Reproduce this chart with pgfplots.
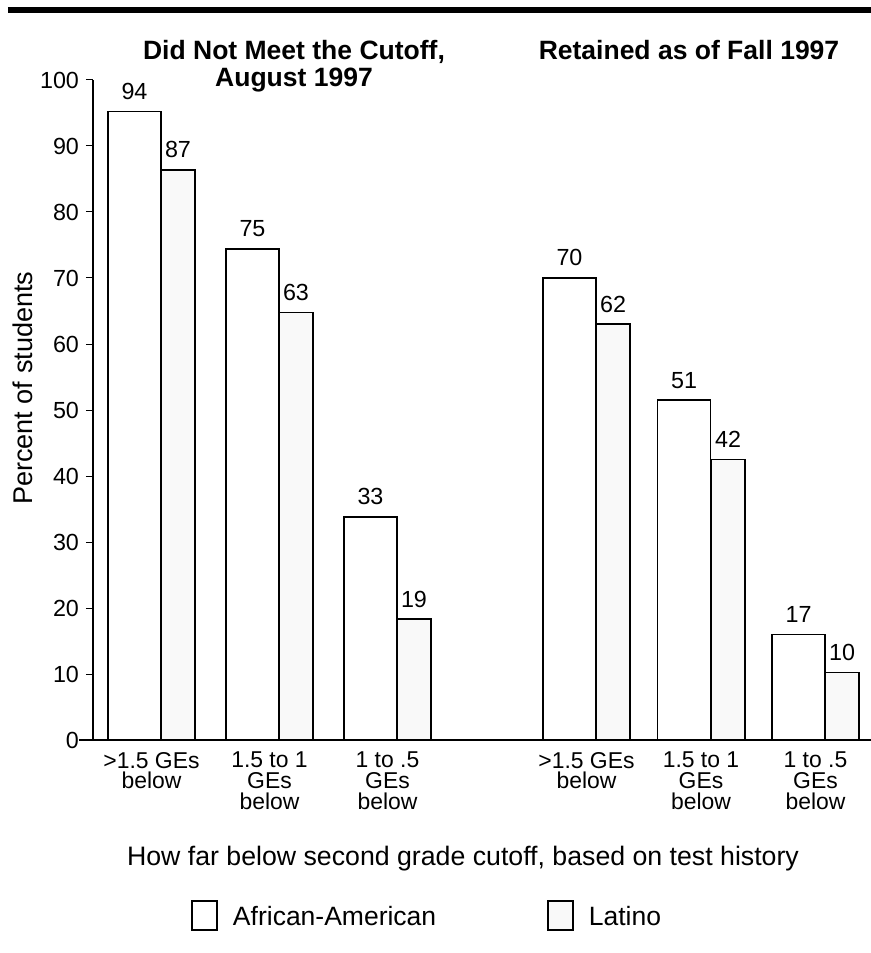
\documentclass[border=0pt]{standalone}
\usepackage{pgfplots}
\pgfplotsset{compat=1.18}
\usepackage{fontspec}
\setmainfont{Liberation Sans}

\begin{document}
\begin{tikzpicture}
\begin{axis}[
  x=0.5bp, y=3.3bp,
  xmin=93, xmax=871, ymin=0, ymax=100,
  axis lines*=left,
  axis line style={black, line width=0.8bp},
  x axis line style={shorten <=-7bp, line width=1bp},
  clip=false,
  ybar, bar shift=0pt,
  ytick={0,10,...,100},
  tick align=outside,
  major tick length=3.5bp,
  ytick style={black, line width=0.5bp},
  xtick={151.5,269.5,387.5,586.5,701,815.5},
  xticklabels={{>1.5 GEs\\below},{1.5 to 1\\GEs\\below},{1 to .5\\GEs\\below},{>1.5 GEs\\below},{1.5 to 1\\GEs\\below},{1 to .5\\GEs\\below}},
  xtick style={draw=none},
  xticklabel style={align=center, font=\fontsize{11.5}{10.5}\selectfont, yshift=1bp},
  yticklabel style={font=\fontsize{11.7}{14}\selectfont},
  /pgf/number format/assume math mode=true,
  point meta=explicit symbolic,
  nodes near coords,
  every node near coord/.append style={anchor=south, inner sep=0pt, yshift=5.5bp, font=\fontsize{11.7}{14}\selectfont, text=black},
  legend columns=2,
  legend image code/.code={\draw[#1] (0bp,-6bp) rectangle (12.5bp,8.5bp);},
  legend style={at={(axis cs:191,-28.94)}, anchor=south west, draw=none, fill=none,
    inner sep=0pt, column sep=7.5bp, font=\fontsize{13.3}{16}\selectfont,
    nodes={inner sep=0pt}},
]
% African-American
\addplot[draw=black, fill=white, line width=0.8bp, bar width=53] coordinates {
  (134.5,95.2) [94]
  (252.5,74.4) [75]
  (370.5,33.8) [33]
  (569.5,70.0) [70]
  (684,51.5) [51]
  (798.5,16.0) [17]
};
\addlegendentry{African-American\hspace*{48bp}}
% Latino
\addplot[draw=black, fill=gray!5, line width=0.8bp, bar width=34] coordinates {
  (178,86.4) [87]
  (296,64.8) [63]
  (414,18.3) [19]
  (613,63.0) [62]
  (728,42.5) [42]
  (842,10.2) [10]
};
\addlegendentry{Latino}

\draw[line width=3bp] (axis cs:8,110.68) -- (axis cs:871,110.68);
\node[font=\bfseries\fontsize{13.3}{14}\selectfont, anchor=base] at (axis cs:294,103.18) {Did Not Meet the Cutoff,};
\node[font=\bfseries\fontsize{13.3}{14}\selectfont, anchor=base] at (axis cs:294,98.94) {August 1997};
\node[font=\bfseries\fontsize{13.3}{14}\selectfont, anchor=base] at (axis cs:689,103.18) {Retained as of Fall 1997};
\node[rotate=90, font=\fontsize{13.6}{15}\selectfont] at (axis cs:23,53.3) {Percent of students};
\node[anchor=base, font=\fontsize{13.4}{16}\selectfont] at (axis cs:463,-18.94) {How far below second grade cutoff, based on test history};

\coordinate (bbsw) at (axis cs:0,-32.27);
\coordinate (bbne) at (axis cs:871,112.12);
\end{axis}
\pgfresetboundingbox
\useasboundingbox (bbsw) rectangle (bbne);
\end{tikzpicture}
\end{document}
